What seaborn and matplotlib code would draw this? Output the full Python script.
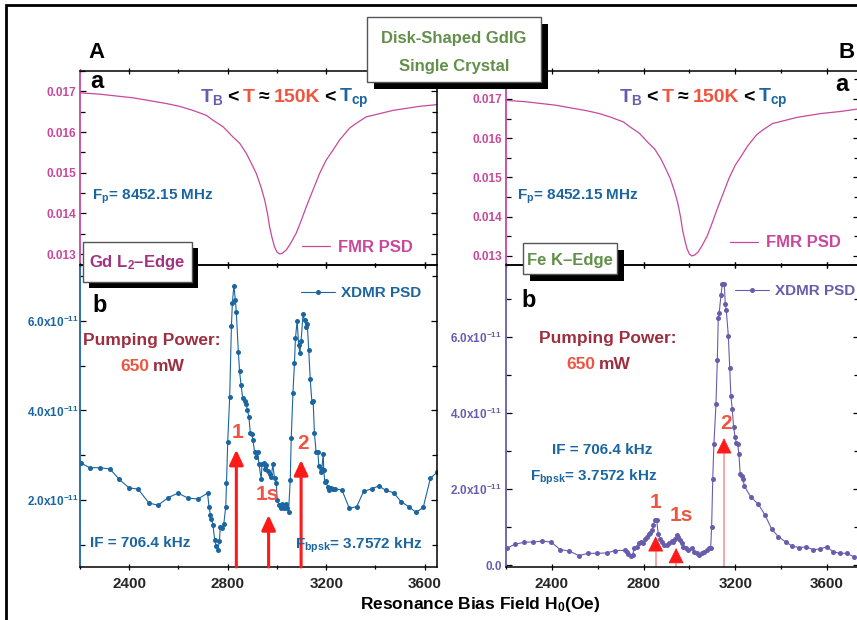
import matplotlib
matplotlib.use("Agg")
import matplotlib.pyplot as plt
from matplotlib.patches import Rectangle
from matplotlib.ticker import MultipleLocator
import seaborn as sns

# FMR PSD sweep (same trace shown in both top panels)
fmr_field = [2190, 2207, 2281, 2416, 2551, 2605, 2659, 2713, 2740, 2781, 2821, 2849, 2876,
             2896, 2916, 2935, 2950, 2962, 2970, 2980, 2990, 3000, 3011, 3022, 3038, 3055,
             3078, 3100, 3119, 3146, 3173, 3200, 3227, 3254, 3294, 3321, 3362, 3416, 3470,
             3578, 3660, 3745]
fmr_psd = [0.01697, 0.01696, 0.01693, 0.01684, 0.01670, 0.01663, 0.01653, 0.01641,
           0.01629, 0.01613, 0.01588, 0.01572, 0.01547, 0.01523, 0.01498, 0.01465,
           0.01433, 0.01398, 0.01367, 0.01340, 0.01318, 0.01305, 0.01300, 0.01302,
           0.01310, 0.01326, 0.01351, 0.01385, 0.01416, 0.01457, 0.01498, 0.01531,
           0.01555, 0.01580, 0.01609, 0.01621, 0.01637, 0.01645, 0.01653, 0.01663,
           0.01668, 0.01675]

# XDMR PSD, Gd L2-edge (x1e-11)
gd_field = [2204, 2240, 2281, 2322, 2359, 2399, 2436, 2480, 2517, 2558, 2598, 2639, 2679,
            2718, 2724, 2730, 2734, 2740, 2747, 2754, 2760, 2766, 2770, 2777, 2784, 2792,
            2795, 2800, 2808, 2815, 2819, 2825, 2831, 2835, 2843, 2848, 2854, 2861, 2869,
            2874, 2880, 2886, 2892, 2898, 2902, 2909, 2916, 2921, 2927, 2936, 2939, 2947,
            2951, 2957, 2963, 2970, 2977, 2983, 2990, 2997, 3001, 3008, 3015, 3021, 3027,
            3035, 3040, 3047, 3054, 3058, 3065, 3071, 3075, 3082, 3088, 3093, 3098, 3106,
            3112, 3119, 3123, 3129, 3135, 3142, 3147, 3152, 3159, 3166, 3170, 3177, 3182,
            3188, 3190, 3194, 3200, 3206, 3213, 3220, 3228, 3236, 3264, 3294, 3324, 3352,
            3385, 3413, 3444, 3474, 3504, 3535, 3565, 3594, 3623, 3652]
gd_psd = [2.82, 2.72, 2.72, 2.69, 2.46, 2.27, 2.24, 1.93, 1.88, 2.05, 2.15, 2.04, 2.02,
          2.15, 1.85, 1.66, 1.57, 1.44, 1.11, 0.96, 0.88, 1.07, 1.40, 1.37, 1.46, 1.85,
          2.37, 3.30, 4.30, 5.89, 6.41, 6.79, 6.47, 6.19, 5.31, 4.89, 4.57, 4.27, 4.22,
          4.15, 4.01, 3.85, 3.49, 3.47, 3.34, 3.08, 2.95, 3.07, 2.80, 2.46, 2.80, 2.82,
          2.69, 2.78, 2.65, 2.57, 2.51, 2.80, 2.48, 2.37, 2.00, 1.89, 1.81, 1.90, 1.81,
          1.90, 1.82, 1.73, 2.45, 3.38, 4.40, 5.05, 5.61, 6.00, 5.46, 5.28, 5.56, 6.16,
          6.01, 5.87, 5.93, 5.35, 4.70, 4.18, 4.20, 3.50, 3.06, 3.08, 2.76, 2.63, 2.69,
          3.03, 2.67, 2.40, 2.43, 2.28, 2.22, 2.26, 2.25, 2.25, 2.22, 1.81, 1.85, 2.19,
          2.25, 2.31, 2.21, 2.16, 1.96, 1.85, 1.72, 1.83, 2.48, 2.63]

# XDMR PSD, Fe K-edge (x1e-11)
fe_field = [2203, 2239, 2279, 2319, 2356, 2396, 2436, 2476, 2518, 2559, 2598, 2639, 2675,
            2719, 2726, 2733, 2744, 2752, 2760, 2770, 2780, 2789, 2799, 2808, 2814, 2822,
            2828, 2836, 2843, 2850, 2857, 2864, 2872, 2879, 2889, 2901, 2911, 2923, 2930,
            2937, 2945, 2952, 2959, 2966, 2973, 2984, 2995, 3010, 3020, 3032, 3043, 3054,
            3064, 3075, 3087, 3093, 3097, 3102, 3107, 3116, 3122, 3126, 3130, 3138, 3144,
            3152, 3157, 3161, 3170, 3176, 3181, 3187, 3193, 3199, 3205, 3211, 3216, 3222,
            3228, 3234, 3240, 3267, 3301, 3330, 3359, 3388, 3420, 3449, 3479, 3509, 3539,
            3568, 3599, 3628, 3657, 3686, 3718]
fe_psd = [0.44, 0.55, 0.60, 0.61, 0.63, 0.61, 0.41, 0.37, 0.25, 0.31, 0.31, 0.32, 0.38,
          0.39, 0.34, 0.29, 0.24, 0.27, 0.44, 0.48, 0.57, 0.61, 0.57, 0.68, 0.75, 0.81,
          0.85, 0.92, 1.05, 1.20, 1.20, 0.83, 0.70, 0.60, 0.53, 0.53, 0.57, 0.63, 0.61,
          0.68, 0.79, 0.75, 0.66, 0.57, 0.48, 0.44, 0.41, 0.44, 0.35, 0.31, 0.26, 0.31,
          0.35, 0.39, 0.44, 0.46, 0.99, 2.26, 3.18, 4.24, 5.41, 6.51, 6.64, 7.11, 7.41,
          7.41, 6.87, 6.71, 6.03, 5.20, 4.46, 4.10, 3.64, 3.38, 3.22, 3.18, 2.92, 2.39,
          2.34, 2.26, 2.08, 1.80, 1.60, 1.32, 0.95, 0.75, 0.61, 0.50, 0.46, 0.48, 0.41,
          0.42, 0.48, 0.35, 0.31, 0.31, 0.22]

# resonance markers (field, arrow tip)
arrow_labels = ["1", "1s", "2"]
gd_arrow_field = [2835, 2966, 3098]
gd_arrow_tip = [3.12, 1.66, 2.89]
fe_arrow_field = [2853, 2942, 3151]
fe_arrow_tip = [0.76, 0.45, 3.34]

field_ticks = [2400, 2800, 3200, 3600]
fmr_ticks = [0.013, 0.014, 0.015, 0.016, 0.017]
fmr_ticklabels = ["0.013", "0.014", "0.015", "0.016", "0.017"]
gd_ticks = [2, 4, 6]
gd_ticklabels = ["2.0x10$^{-11}$", "4.0x10$^{-11}$", "6.0x10$^{-11}$"]
fe_ticks = [0, 2, 4, 6]
fe_ticklabels = ["0.0", "2.0x10$^{-11}$", "4.0x10$^{-11}$", "6.0x10$^{-11}$"]

PINK = "#c8489c"
BLUE = "#1b65a0"
PURPLE = "#6a5cad"
DARKRED = "#9c3040"
CORAL = "#ee5540"
GREEN = "#62904a"
MAGENTA = "#a33284"
RED = "#ff1a1a"

sns.set_theme(style="ticks")
plt.rcParams["font.family"] = ["Liberation Sans", "DejaVu Sans"]
plt.rcParams["font.weight"] = "bold"
plt.rcParams["mathtext.fontset"] = "custom"
for k in ["rm", "it", "bf", "sf"]:
    plt.rcParams["mathtext." + k] = "Liberation Sans:bold"

W, H = 857, 620
fig = plt.figure(figsize=(W / 100, H / 100), dpi=100)


def box(l, t, r, b):
    return [l / W, 1 - b / H, (r - l) / W, (b - t) / H]


def ftext(x, y, s, **kw):
    return fig.text(x / W, 1 - y / H, s, **kw)


axA1 = fig.add_axes(box(80, 71, 437, 265))
axA2 = fig.add_axes(box(80, 265, 437, 567))
axB1 = fig.add_axes(box(506, 71, 859, 265))
axB2 = fig.add_axes(box(506, 265, 859, 567))

# top panels: FMR
for ax, ylim in [(axA1, (0.01273, 0.0175)), (axB1, (0.01277, 0.01771))]:
    sns.lineplot(x=fmr_field, y=fmr_psd, ax=ax, color=PINK, lw=0.9, sort=False,
                 estimator=None, label="FMR PSD")
    ax.set_ylim(*ylim)
    ax.set_yticks(fmr_ticks)
    ax.set_yticklabels(fmr_ticklabels)
    ax.yaxis.set_minor_locator(MultipleLocator(0.0005))
    ax.tick_params(axis="y", labelsize=8.5, labelcolor=PINK, pad=3)
    ax.tick_params(axis="x", labelbottom=False)

# bottom panels: XDMR
sns.lineplot(x=gd_field, y=gd_psd, ax=axA2, color=BLUE, lw=0.8, marker="o", markersize=3.6,
             markeredgewidth=0, sort=False, estimator=None, label="XDMR PSD")
sns.lineplot(x=fe_field, y=fe_psd, ax=axB2, color=PURPLE, lw=0.8, marker="o", markersize=3.6,
             markeredgewidth=0, sort=False, estimator=None, label="XDMR PSD")
axA2.set_ylim(0.5, 7.25)
axA2.set_yticks(gd_ticks)
axA2.set_yticklabels(gd_ticklabels)
axA2.tick_params(axis="y", labelsize=8.5, labelcolor=BLUE, pad=1)
axB2.set_ylim(-0.05, 7.9)
axB2.set_yticks(fe_ticks)
axB2.set_yticklabels(fe_ticklabels)
axB2.tick_params(axis="y", labelsize=8.5, labelcolor=PURPLE, pad=3)
for ax in (axA2, axB2):
    ax.yaxis.set_minor_locator(MultipleLocator(1))
    ax.tick_params(axis="x", labelsize=11, pad=5)

for ax, xmax in [(axA1, 3650), (axA2, 3650), (axB1, 3740), (axB2, 3740)]:
    ax.set_xlim(2200, xmax)
    ax.set_xticks(field_ticks)
    ax.xaxis.set_minor_locator(MultipleLocator(200))
    ax.set_xlabel("")
    ax.set_ylabel("")

# spines and ticks
for ax, col in [(axA1, PINK), (axB1, PINK), (axA2, BLUE), (axB2, PURPLE)]:
    ax.set_facecolor("none")
    for s in ax.spines.values():
        s.set_color("black")
        s.set_linewidth(1.1)
        s.set_visible(True)
    ax.spines["left"].set_color(col)
    ax.spines["left"].set_linewidth(1.3)
    ax.tick_params(which="both", top=True, right=True, left=True, bottom=True,
                   width=0.9, color="black")
    ax.tick_params(axis="y", which="both", direction="in")
    ax.tick_params(axis="x", which="both", direction="inout")
    ax.tick_params(which="major", length=4.5)
    ax.tick_params(which="minor", length=3.5)
    for t in ax.yaxis.get_major_ticks() + ax.yaxis.get_minor_ticks():
        t.tick1line.set_color(col)

# arrows, Gd panel
for f, tip, lab, dx, dy in zip(gd_arrow_field, gd_arrow_tip, arrow_labels,
                               [1, -1, 2], [10, 14, 10]):
    axA2.annotate("", xy=(f, tip), xytext=(f, 0.5),
                  arrowprops=dict(arrowstyle="-|>,head_length=0.9,head_width=0.42",
                                  color=RED, lw=2.2, mutation_scale=10,
                                  shrinkA=0, shrinkB=0))
    axA2.annotate(lab, xy=(f, tip), xytext=(dx * 0.72, dy * 0.72 + 5),
                  textcoords="offset points", ha="center", va="center",
                  color=CORAL, fontsize=15, fontweight="bold")

# arrows, Fe panel
for f, tip, lab, dx, dy in zip(fe_arrow_field, fe_arrow_tip, arrow_labels,
                               [0, 5, 2], [27, 26, 8]):
    axB2.vlines(f, -0.05, tip - 0.3, color="#f5a0a0", lw=1.3)
    axB2.annotate("", xy=(f, tip), xytext=(f, tip - 0.36),
                  arrowprops=dict(arrowstyle="-|>,head_length=1.0,head_width=0.5",
                                  color=RED, lw=0.6, mutation_scale=10,
                                  shrinkA=0, shrinkB=0))
    axB2.annotate(lab, xy=(f, tip), xytext=(dx * 0.72, dy * 0.72 + 5),
                  textcoords="offset points", ha="center", va="center",
                  color=CORAL, fontsize=15, fontweight="bold")

# legends
for ax, col, x0, y0, hl, fs in [(axA1, PINK, 302, 247, 1.7, 12), (axB1, PINK, 730, 243, 1.7, 12),
                                (axA2, BLUE, 301, 293, 2.2, 11), (axB2, PURPLE, 735, 291, 2.2, 11)]:
    ax.legend(loc="center left", bbox_to_anchor=(x0 / W, 1 - y0 / H),
              bbox_transform=fig.transFigure, frameon=False, borderpad=0,
              borderaxespad=0, handlelength=hl, handletextpad=0.45,
              labelcolor=col, prop={"size": fs, "weight": "bold"})

renderer = fig.canvas.get_renderer()


def colored_text(x, y, parts, size, gap=3):
    cur = x
    for s, c in parts:
        t = ftext(cur, y, s, color=c, fontsize=size, ha="left", va="baseline",
                  fontweight="bold")
        cur += t.get_window_extent(renderer=renderer).width + gap


temp_parts = [("T$_\\mathregular{B}$", PURPLE), ("<", "black"), ("T", CORAL),
              ("≈", "black"), ("150K", CORAL), ("<", "black"),
              ("T$_\\mathregular{cp}$", BLUE)]
colored_text(200, 102, temp_parts, 14, gap=4)
colored_text(619, 102, temp_parts, 14, gap=4)

for x in (92, 517):
    ftext(x, 197, "F$_\\mathregular{p}$= 8452.15 MHz", color=BLUE, fontsize=11,
          ha="left", va="center")

ftext(88, 58, "A", fontsize=16, color="black", ha="left", va="baseline")
ftext(838, 58, "B", fontsize=16, color="black", ha="left", va="baseline")
ftext(90, 88, "a", fontsize=17, color="black", ha="left", va="baseline")
ftext(835, 91, "a", fontsize=17, color="black", ha="left", va="baseline")
ftext(92, 312, "b", fontsize=17, color="black", ha="left", va="baseline")
ftext(521, 307, "b", fontsize=17, color="black", ha="left", va="baseline")

ftext(152, 340, "Pumping Power:", color=DARKRED, fontsize=12.5, ha="center", va="center")
ftext(608, 339, "Pumping Power:", color=DARKRED, fontsize=12.5, ha="center", va="center")
colored_text(120, 371, [("650", CORAL), ("mW", DARKRED)], 12.5, gap=4)
colored_text(566, 369, [("650", CORAL), ("mW", DARKRED)], 12.5, gap=4)

ftext(90, 543, "IF = 706.4 kHz", color=BLUE, fontsize=11, ha="left", va="center")
ftext(295, 545, "F$_\\mathregular{bpsk}$= 3.7572 kHz", color=BLUE, fontsize=11,
      ha="left", va="center")
ftext(602, 450, "IF = 706.4 kHz", color=BLUE, fontsize=11, ha="center", va="center")
ftext(530, 477, "F$_\\mathregular{bpsk}$= 3.7572 kHz", color=BLUE, fontsize=11,
      ha="left", va="center")

ftext(480, 605, "Resonance Bias Field H$_\\mathregular{0}$(Oe)", color="black",
      fontsize=12.5, ha="center", va="center")


# shadowed label boxes
def shadow_box(l, t, r, b, off=7):
    fig.add_artist(Rectangle(((l + off) / W, 1 - (b + off) / H), (r - l) / W, (b - t) / H,
                             transform=fig.transFigure, facecolor="black",
                             edgecolor="none", zorder=5))
    fig.add_artist(Rectangle((l / W, 1 - b / H), (r - l) / W, (b - t) / H,
                             transform=fig.transFigure, facecolor="white",
                             edgecolor="#555555", lw=1, zorder=6))


shadow_box(367, 17, 541, 82)
ftext(454, 39, "Disk-Shaped GdIG", color=GREEN, fontsize=12, ha="center", va="center", zorder=7)
ftext(454, 67, "Single Crystal", color=GREEN, fontsize=12, ha="center", va="center", zorder=7)
shadow_box(83, 242, 192, 282, off=6)
ftext(137, 263, "Gd L$_\\mathregular{2}$–Edge", color=MAGENTA, fontsize=12, ha="center",
      va="center", zorder=7)
shadow_box(523, 243, 617, 274, off=7)
ftext(570, 261, "Fe K–Edge", color=GREEN, fontsize=12, ha="center", va="center", zorder=7)

# outer frame
fig.add_artist(Rectangle((6 / W, -0.05), 1.0, 1.05 - 5 / H, transform=fig.transFigure,
                         fill=False, edgecolor="black", lw=2, zorder=4))

fig.savefig("out.png", dpi=100)
